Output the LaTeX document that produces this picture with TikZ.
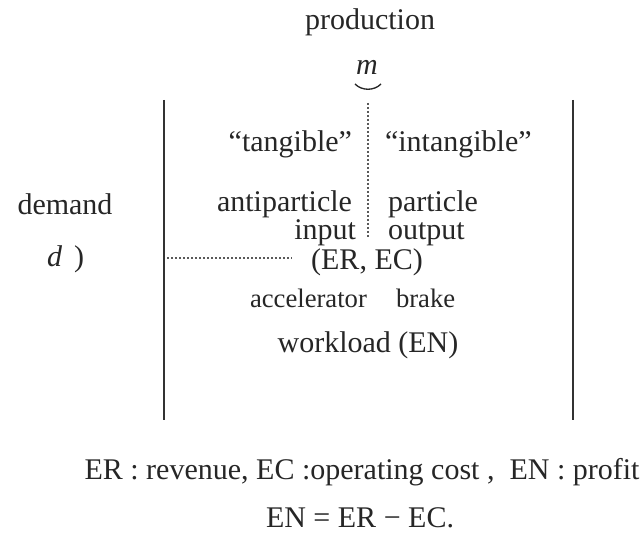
\documentclass[tikz,border=0pt]{standalone}
\usepackage{fontspec}
\setmainfont{Liberation Serif}
\begin{document}
\begin{tikzpicture}[x=0.75pt,y=-0.75pt,
        every node/.style={inner sep=0pt,outer sep=0pt,text=black!85},
        big/.style={font=\fontsize{22.5}{27}\selectfont},
        small/.style={font=\fontsize{20}{24}\selectfont},
        bar/.style={line width=1.5pt,black!80},
        dots/.style={line width=0.8pt,black!65,dash pattern=on 1.5pt off 1.5pt}]
                \useasboundingbox (0,0) rectangle (640,538);
                %% production on top
                \node[big,anchor=base] (prod) at (370,30) {production};
                \node[big,anchor=base] (m) at (367,75) {\textit{m}};
                \draw[line width=1pt,black!85] (355,84) .. controls (362,91) and (374,91) .. (381,84);
                %% the two bars
                \coordinate (lt) at (164,100);
                \coordinate (lb) at (164,420);
                \coordinate (rt) at (573,100);
                \coordinate (rb) at (573,420);
                \draw[bar] (lt) -- (lb);
                \draw[bar] (rt) -- (rb);
                %% dotted split
                \coordinate (vtop) at (368,103);
                \coordinate (vbot) at (368,238);
                \draw[dots] (vtop) -- (vbot);
                \coordinate (hl) at (167,258);
                \coordinate (hr) at (292,258);
                \draw[dots] (hl) -- (hr);
                %% demand
                \node[big,anchor=base] (dem) at (65,215) {demand};
                \node[big,anchor=base west] (d) at (47,267) {\textit{d}\hspace{9pt})};
                %% left and right of the split
                \node[big,anchor=base east] (tang) at (352,152) {“tangible”};
                \node[big,anchor=base west] (intang) at (385,152) {“intangible”};
                \node[big,anchor=base east] (anti) at (352,212) {antiparticle};
                \node[big,anchor=base west] (part) at (388,212) {particle};
                \node[big,anchor=base east] (in) at (356,240) {input};
                \node[big,anchor=base west] (out) at (388,240) {output};
                \node[big,anchor=base] (erec) at (367,270) {(ER, EC)};
                \node[small,anchor=base west] (acc) at (250,308) {accelerator};
                \node[small,anchor=base west] (brake) at (396,308) {brake};
                \node[big,anchor=base] (work) at (368,353) {workload (EN)};
                %% legend
                \node[big,anchor=base] (legend) at (362,480) {ER : revenue, EC :operating cost , \ EN : profit};
                \node[big,anchor=base] (eq) at (360,528) {EN = ER − EC.};
            \end{tikzpicture}
\end{document}
